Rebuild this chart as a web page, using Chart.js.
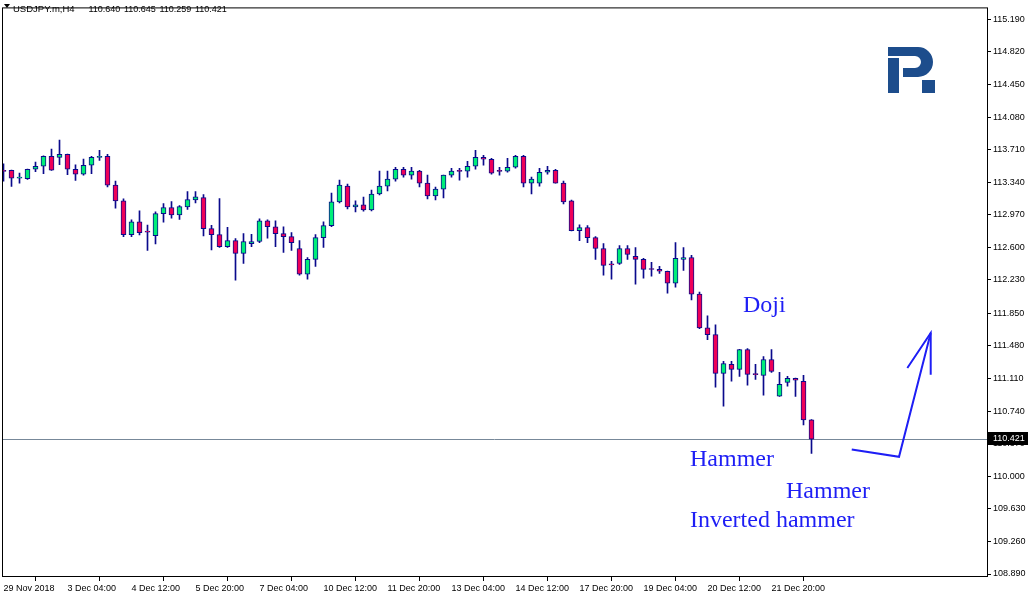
<!DOCTYPE html>
<html><head><meta charset="utf-8">
<script src="https://cdn.jsdelivr.net/npm/chart.js@4.4.1/dist/chart.umd.min.js"></script>
<style>html,body{margin:0;padding:0;background:#fff;overflow:hidden}#wrap{position:relative;width:1030px;height:598px}canvas{display:block}</style>
</head><body><div id="wrap"><canvas id="c" width="1030" height="598"></canvas></div>
<script>
// ---------------- data ----------------
const symbolTitle = 'USDJPY.m,H4';
const opens = [113.465,113.476,113.386,113.381,113.487,113.521,113.634,113.622,113.656,113.487,
113.431,113.532,113.622,113.634,113.307,113.127,112.744,112.891,112.774,112.733,
112.981,113.052,112.969,113.059,113.138,113.164,112.812,112.744,112.609,112.677,
112.531,112.643,112.666,112.902,112.834,112.756,112.722,112.587,112.294,112.463,
112.711,112.846,113.116,113.296,113.059,113.082,113.026,113.206,113.296,113.375,
113.487,113.420,113.465,113.330,113.183,113.262,113.420,113.465,113.465,113.521,
113.622,113.600,113.465,113.465,113.510,113.634,113.330,113.330,113.453,113.476,
113.330,113.127,112.789,112.823,112.711,112.587,112.402,112.418,112.587,112.497,
112.463,112.350,112.350,112.328,112.193,112.463,112.485,112.069,111.686,111.608,
111.169,111.270,111.214,111.439,111.157,111.146,111.326,110.910,111.067,111.112,
111.079,110.640];
const highs = [113.547,113.478,113.442,113.489,113.569,113.640,113.716,113.817,113.658,113.536,
113.603,113.634,113.701,113.656,113.352,113.150,112.913,113.014,112.852,113.003,
113.097,113.119,113.074,113.232,113.232,113.198,112.849,113.153,112.827,112.699,
112.756,112.748,112.924,112.913,112.902,112.834,112.767,112.677,112.485,112.744,
112.891,113.217,113.363,113.318,113.127,113.172,113.251,113.465,113.465,113.510,
113.510,113.510,113.476,113.420,113.285,113.422,113.498,113.498,113.577,113.701,
113.645,113.611,113.510,113.611,113.645,113.645,113.397,113.498,113.521,113.487,
113.352,113.138,112.857,112.846,112.722,112.643,112.440,112.621,112.621,112.598,
112.474,112.429,112.384,112.330,112.654,112.598,112.508,112.092,111.821,111.720,
111.304,111.304,111.441,111.450,111.270,111.360,111.439,111.180,111.135,111.114,
111.146,110.645];
const lows = [113.352,113.291,113.330,113.370,113.460,113.438,113.474,113.539,113.426,113.359,
113.420,113.438,113.588,113.285,113.044,112.722,112.722,112.740,112.564,112.639,
112.886,112.931,112.917,113.032,113.104,112.729,112.571,112.598,112.598,112.227,
112.418,112.609,112.654,112.703,112.609,112.542,112.564,112.283,112.238,112.384,
112.598,112.834,113.104,113.037,113.003,113.010,113.014,113.195,113.240,113.352,
113.397,113.375,113.285,113.150,113.138,113.161,113.397,113.363,113.397,113.487,
113.532,113.431,113.420,113.453,113.498,113.285,113.206,113.296,113.431,113.328,
113.093,112.787,112.677,112.654,112.463,112.283,112.238,112.407,112.463,112.182,
112.249,112.272,112.305,112.080,112.148,112.339,112.002,111.675,111.551,111.011,
110.797,111.079,111.135,111.034,111.101,110.921,111.180,110.908,111.022,110.908,
110.583,110.259];
const closes = [113.462,113.386,113.388,113.487,113.521,113.634,113.476,113.656,113.487,113.431,
113.532,113.622,113.634,113.307,113.127,112.744,112.891,112.767,112.772,112.984,
113.052,112.969,113.063,113.142,113.175,112.812,112.744,112.609,112.677,112.531,
112.666,112.666,112.902,112.834,112.756,112.722,112.654,112.294,112.463,112.711,
112.846,113.116,113.307,113.059,113.082,113.026,113.206,113.296,113.375,113.487,
113.420,113.465,113.330,113.183,113.262,113.420,113.465,113.463,113.521,113.622,
113.600,113.442,113.463,113.510,113.634,113.330,113.375,113.453,113.476,113.330,
113.116,112.789,112.823,112.711,112.587,112.395,112.400,112.587,112.519,112.463,
112.350,112.348,112.328,112.193,112.474,112.485,112.069,111.686,111.608,111.169,
111.281,111.214,111.439,111.157,111.155,111.326,111.191,111.045,111.112,111.090,
110.640,110.421];
const tickLabels = ['29 Nov 2018','3 Dec 04:00','4 Dec 12:00','5 Dec 20:00','7 Dec 04:00','10 Dec 12:00',
'11 Dec 20:00','13 Dec 04:00','14 Dec 12:00','17 Dec 20:00','19 Dec 04:00','20 Dec 12:00','21 Dec 20:00'];
const barsPerTick = 8;
const priceTicks = [115.19,114.82,114.45,114.08,113.71,113.34,112.97,112.60,112.23,111.85,
111.48,111.11,110.74,110.37,110.00,109.63,109.26,108.89];
const noteTexts = ['Doji','Hammer','Hammer','Inverted hammer'];
const noteBars = [92.44,85.81,97.81,85.81];
const notePrices = [111.871,110.116,109.750,109.419];
const arrowBars = [106.03,111.94,115.90];
const arrowPrices = [110.304,110.221,111.627];
const arrowHeadBars = [112.98,115.90,115.90];
const arrowHeadPrices = [111.230,111.627,111.154];

// ---------------- style ----------------
const GREEN = '#00ee78', RED = '#ee0058', NAVY = '#0a0a8c', BLUE = '#1e1ef5';
const AXFONT = {family: 'Liberation Sans, Arial, sans-serif', size: 9};

const idx = opens.map((_, i) => i);
const bodyData = idx.map(i => ({x: i, y: [opens[i], closes[i]]}));
const wickData = idx.map(i => ({x: i, y: [lows[i], highs[i]]}));
const bodyColors = idx.map(i => closes[i] >= opens[i] ? GREEN : RED);
const lastClose = closes[closes.length - 1];

const framePlugin = {
  id: 'frame',
  beforeDatasetsDraw(chart) {
    const {ctx, chartArea: a, scales} = chart;
    const y = Math.round(scales.y.getPixelForValue(lastClose)) + 0.5;
    ctx.save();
    ctx.strokeStyle = '#778899'; ctx.lineWidth = 1;
    ctx.beginPath(); ctx.moveTo(a.left, y); ctx.lineTo(a.right, y); ctx.stroke();
    ctx.restore();
  },
  afterDraw(chart) {
    const {ctx, chartArea: a, scales} = chart;
    ctx.save();
    // frame
    ctx.strokeStyle = '#000'; ctx.lineWidth = 1;
    ctx.strokeRect(a.left + 0.5, a.top + 0.5, a.right - a.left, a.bottom - a.top - 1);
    // current price box
    const y = Math.round(scales.y.getPixelForValue(lastClose));
    ctx.fillStyle = '#000';
    ctx.fillRect(a.right, y - 7, 41, 13);
    ctx.fillStyle = '#fff';
    ctx.font = '9px "Liberation Sans", Arial, sans-serif';
    ctx.textBaseline = 'middle'; ctx.textAlign = 'left';
    ctx.fillText(lastClose.toFixed(3), a.right + 6, y);
    // header
    ctx.fillStyle = '#000';
    ctx.beginPath(); ctx.moveTo(4, 4); ctx.lineTo(10, 4); ctx.lineTo(7, 8); ctx.closePath(); ctx.fill();
    ctx.font = '9.5px "Liberation Sans", Arial, sans-serif';
    ctx.textBaseline = 'alphabetic';
    ctx.fillText(symbolTitle, 13, 12);
    ctx.font = '9px "Liberation Sans", Arial, sans-serif';
    [opens, highs, lows, closes].forEach((s, i) => {
      ctx.fillText(s[s.length - 1].toFixed(3), 88.5 + 35.5 * i, 12);
    });
    // notes
    ctx.fillStyle = BLUE;
    ctx.font = '24px "Liberation Serif", "Times New Roman", serif';
    noteTexts.forEach((t, i) => {
      ctx.fillText(t, scales.x.getPixelForValue(noteBars[i]), scales.y.getPixelForValue(notePrices[i]));
    });
    // logo
    ctx.fillStyle = '#1d4d8c';
    ctx.fillRect(888, 58, 11, 35);
    ctx.beginPath();
    ctx.moveTo(888, 47); ctx.lineTo(918, 47);
    ctx.arc(918, 62, 15, -Math.PI / 2, Math.PI / 2);
    ctx.lineTo(903, 77); ctx.lineTo(903, 68); ctx.lineTo(915, 68);
    ctx.arc(915, 62, 6, Math.PI / 2, -Math.PI / 2, true);
    ctx.lineTo(888, 56); ctx.closePath(); ctx.fill();
    ctx.fillRect(922, 80, 13, 13);
    ctx.restore();
  }
};

new Chart(document.getElementById('c'), {
  type: 'bar',
  data: {
    datasets: [
      {type: 'line', data: arrowBars.map((b, i) => ({x: b, y: arrowPrices[i]})), borderColor: BLUE, borderWidth: 2,
       pointRadius: 0, tension: 0, order: 0, fill: false},
      {type: 'line', data: arrowHeadBars.map((b, i) => ({x: b, y: arrowHeadPrices[i]})), borderColor: BLUE, borderWidth: 2,
       pointRadius: 0, tension: 0, order: 0, fill: false},
      {data: bodyData, backgroundColor: bodyColors, borderColor: NAVY, borderWidth: 1, borderSkipped: false,
       barThickness: 5, minBarLength: 1, grouped: false, order: 1},
      {data: wickData, backgroundColor: NAVY, borderWidth: 0, barThickness: 1, grouped: false, order: 2}
    ]
  },
  options: {
    responsive: false, animation: false, devicePixelRatio: 1,
    layout: {padding: {left: 2, top: 2, right: 0, bottom: 0}},
    plugins: {legend: {display: false}, tooltip: {enabled: false}},
    scales: {
      x: {
        type: 'linear', min: -0.1875, max: 122.9375, offset: false,
        grid: {drawOnChartArea: false, drawTicks: true, tickLength: 4, color: '#000'},
        border: {display: false},
        ticks: {autoSkip: false, maxRotation: 0, minRotation: 0, align: 'start', padding: 2, color: '#000', font: AXFONT,
          callback: v => tickLabels[Math.round(v / barsPerTick)]},
        afterBuildTicks: s => { s.ticks = tickLabels.map((_, j) => ({value: j * barsPerTick})); },
        afterFit: s => { s.height = 21; }
      },
      y: {
        position: 'right', min: 108.856, max: 115.325,
        grid: {drawOnChartArea: false, drawTicks: true, tickLength: 4, color: '#000'},
        border: {display: false},
        ticks: {autoSkip: false, padding: 2, color: '#000', font: AXFONT, callback: v => v.toFixed(3)},
        afterBuildTicks: s => { s.ticks = priceTicks.map(v => ({value: v})); },
        afterFit: s => { s.width = 43; }
      }
    }
  },
  plugins: [framePlugin]
});
</script></body></html>
